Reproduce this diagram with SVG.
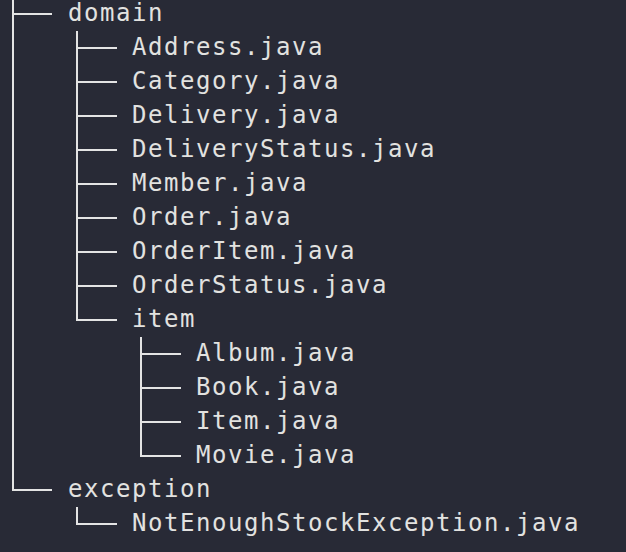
<svg xmlns="http://www.w3.org/2000/svg" width="626" height="552" viewBox="0 0 626 552">
<style>
.t{font-family:"DejaVu Sans Mono","Liberation Mono",monospace;font-size:24px;letter-spacing:1.55px;fill:#e2e2e0}
.c{fill:none;stroke:#e4e4e4;stroke-width:2}
</style>
<rect width="626" height="552" fill="#282a36"/>
<g id="connectors" class="c">
<path d="M13 0V490H52M13 14H52"/>
<path d="M77 31V320H117M77 48H117M77 82H117M77 116H117M77 150H117M77 184H117M77 218H117M77 252H117M77 286H117"/>
<path d="M141 337V456H181M141 354H181M141 388H181M141 422H181"/>
<path d="M77 507V524H117"/>
</g>
<g id="domain"><text class="t" x="68" y="21">domain</text></g>
<g id="address"><text class="t" x="132" y="55">Address.java</text></g>
<g id="category"><text class="t" x="132" y="89">Category.java</text></g>
<g id="delivery"><text class="t" x="132" y="123">Delivery.java</text></g>
<g id="deliverystatus"><text class="t" x="132" y="157">DeliveryStatus.java</text></g>
<g id="member"><text class="t" x="132" y="191">Member.java</text></g>
<g id="order"><text class="t" x="132" y="225">Order.java</text></g>
<g id="orderitem"><text class="t" x="132" y="259">OrderItem.java</text></g>
<g id="orderstatus"><text class="t" x="132" y="293">OrderStatus.java</text></g>
<g id="item-dir"><text class="t" x="132" y="327">item</text></g>
<g id="album"><text class="t" x="196" y="361">Album.java</text></g>
<g id="book"><text class="t" x="196" y="395">Book.java</text></g>
<g id="item"><text class="t" x="196" y="429">Item.java</text></g>
<g id="movie"><text class="t" x="196" y="463">Movie.java</text></g>
<g id="exception"><text class="t" x="68" y="497">exception</text></g>
<g id="notenough"><text class="t" x="132" y="531">NotEnoughStockException.java</text></g>
</svg>
